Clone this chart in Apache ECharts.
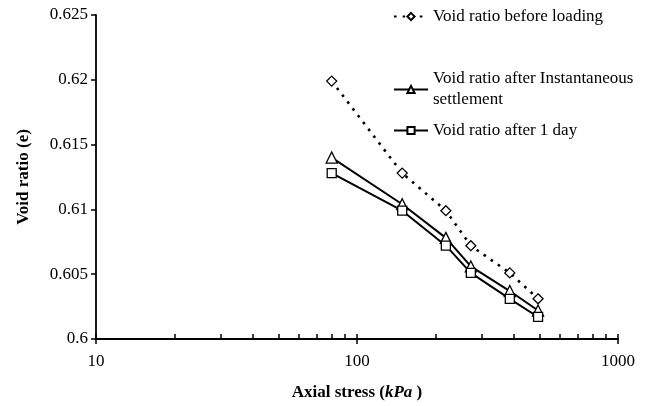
<!DOCTYPE html>
<html>
<head>
<meta charset="utf-8">
<script src="https://cdn.jsdelivr.net/npm/echarts@6/dist/echarts.min.js"></script>
<style>
  html, body { margin: 0; padding: 0; background: #fff; }
  #chart { width: 670px; height: 406px; }
</style>
</head>
<body>
<div id="chart"></div>
<script>
// 数据
const stress = [80, 149, 219, 273, 385, 494];
const eBefore = [0.6199, 0.6128, 0.6099, 0.6072, 0.6051, 0.6031];
const eInstant = [0.6140, 0.6104, 0.6078, 0.6056, 0.6037, 0.6022];
const eOneDay = [0.6128, 0.6099, 0.6072, 0.6051, 0.6031, 0.6017];
const xTickValues = [10, 20, 30, 40, 50, 60, 70, 80, 90, 100, 200, 300, 400, 500, 600, 700, 800, 900, 1000];
const xMajorValues = [10, 100, 1000];

const nameBefore = 'Void ratio before loading';
const nameInstant = 'Void ratio after Instantaneous\nsettlement';
const nameOneDay = 'Void ratio after 1 day';

const FONT = '"Liberation Serif", "Times New Roman", serif';
const INK = '#000';

function pairs(ys) {
  return stress.map((x, i) => [x, ys[i]]);
}

const chart = echarts.init(document.getElementById('chart'));

const legendBase = {
  orient: 'vertical',
  left: 393,
  padding: 0,
  itemWidth: 34,
  itemHeight: 9,
  textStyle: { fontFamily: FONT, fontSize: 17, color: '#000', lineHeight: 21 },
};

const option = {
  animation: false,
  backgroundColor: '#fff',
  grid: { left: 96, right: 52, top: 15, bottom: 63 },
  legend: [
    Object.assign({}, legendBase, { top: 6, data: [nameBefore] }),
    Object.assign({}, legendBase, {
      top: 58,
      data: [{ name: nameInstant, textStyle: { padding: [21, 0, 0, 0] } }],
    }),
    Object.assign({}, legendBase, { top: 120, data: [nameOneDay] }),
  ],
  xAxis: [
    {
      type: 'log',
      logBase: 10,
      min: 10,
      max: 1000,
      name: 'Axial stress ({i|kPa} )',
      nameLocation: 'middle',
      nameGap: 45,
      nameTextStyle: {
        fontFamily: FONT, fontSize: 17, fontWeight: 'bold', color: '#000',
        rich: { i: { fontFamily: FONT, fontSize: 17, fontWeight: 'bold', fontStyle: 'italic', color: '#000' } },
      },
      axisLine: { lineStyle: { color: INK, width: 1.8 } },
      axisTick: { inside: true, length: 5, customValues: xTickValues, lineStyle: { color: INK, width: 1.5 } },
      minorTick: { show: false },
      splitLine: { show: false },
      axisLabel: { fontFamily: FONT, fontSize: 17, color: '#000', margin: 14, formatter: (v) => String(v) },
    },
    {
      type: 'log',
      logBase: 10,
      min: 10,
      max: 1000,
      position: 'bottom',
      axisLine: { show: false },
      axisTick: { inside: false, length: 5, customValues: xMajorValues, lineStyle: { color: INK, width: 1.5 } },
      axisLabel: { show: false },
      splitLine: { show: false },
    },
  ],
  yAxis: {
    type: 'value',
    min: 0.6,
    max: 0.625,
    interval: 0.005,
    name: 'Void ratio (e)',
    nameLocation: 'middle',
    nameGap: 64,
    nameTextStyle: { fontFamily: FONT, fontSize: 17, fontWeight: 'bold', color: '#000' },
    axisLine: { show: true, lineStyle: { color: INK, width: 1.8 } },
    axisTick: { show: true, inside: false, length: 5, lineStyle: { color: INK, width: 1.5 } },
    splitLine: { show: false },
    axisLabel: { fontFamily: FONT, fontSize: 17, color: '#000', margin: 8 },
  },
  series: [
    {
      name: nameBefore,
      type: 'line',
      data: pairs(eBefore),
      symbol: 'diamond',
      symbolSize: 10,
      lineStyle: { color: INK, width: 2.6, type: [2.6, 6] },
      itemStyle: { color: '#fff', borderColor: INK, borderWidth: 1.3 },
    },
    {
      name: nameInstant,
      type: 'line',
      data: pairs(eInstant),
      symbol: 'triangle',
      symbolSize: 11,
      lineStyle: { color: INK, width: 2 },
      itemStyle: { color: '#fff', borderColor: INK, borderWidth: 1.3 },
    },
    {
      name: nameOneDay,
      type: 'line',
      data: pairs(eOneDay),
      symbol: 'rect',
      symbolSize: 9,
      lineStyle: { color: INK, width: 2 },
      itemStyle: { color: '#fff', borderColor: INK, borderWidth: 1.3 },
    },
  ],
};

chart.setOption(option);
</script>
</body>
</html>
